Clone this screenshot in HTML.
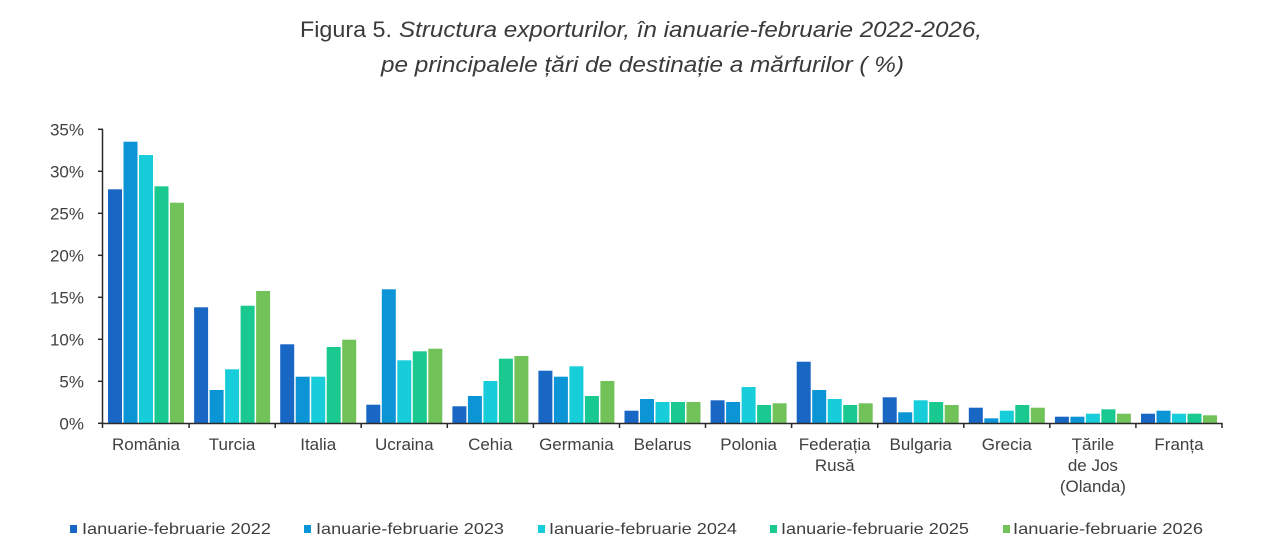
<!DOCTYPE html>
<html>
<head>
<meta charset="utf-8">
<style>
html,body{margin:0;padding:0;background:#fff;}
svg{display:block;}
text{font-family:"Liberation Sans",Arial,sans-serif;fill:#404040;}
</style>
</head>
<body>
<svg width="1280" height="557" viewBox="0 0 1280 557" xmlns="http://www.w3.org/2000/svg">
<rect width="1280" height="557" fill="#fff"/>
<!-- Title -->
<text x="300" y="37" font-size="22" textLength="92" lengthAdjust="spacingAndGlyphs" style="fill:#3a3a3a">Figura 5.</text>
<text x="399" y="37" font-size="22" font-style="italic" textLength="583" lengthAdjust="spacingAndGlyphs" style="fill:#3a3a3a">Structura exporturilor, în ianuarie-februarie 2022-2026,</text>
<text x="381" y="72" font-size="22" font-style="italic" textLength="523" lengthAdjust="spacingAndGlyphs" style="fill:#3a3a3a">pe principalele țări de destinație a mărfurilor ( %)</text>

<!-- Y labels -->
<g font-size="17" text-anchor="end">
<text x="84" y="429.3">0%</text>
<text x="84" y="387.3">5%</text>
<text x="84" y="345.3">10%</text>
<text x="84" y="303.3">15%</text>
<text x="84" y="261.3">20%</text>
<text x="84" y="219.3">25%</text>
<text x="84" y="177.3">30%</text>
<text x="84" y="135.3">35%</text>
</g>

<!-- Bars -->
<g>
<!-- Romania -->
<rect x="108.0" y="189.3" width="14" height="233.7" fill="#1967c4"/>
<rect x="123.5" y="141.7" width="14" height="281.3" fill="#0b95d6"/>
<rect x="139.0" y="155.0" width="14" height="268.0" fill="#16cdd9"/>
<rect x="154.5" y="186.3" width="14" height="236.7" fill="#19c98f"/>
<rect x="170.0" y="202.7" width="14" height="220.3" fill="#72c25a"/>
<!-- Turcia -->
<rect x="194.1" y="307.3" width="14" height="115.7" fill="#1967c4"/>
<rect x="209.6" y="390.0" width="14" height="33.0" fill="#0b95d6"/>
<rect x="225.1" y="369.3" width="14" height="53.7" fill="#16cdd9"/>
<rect x="240.6" y="305.7" width="14" height="117.3" fill="#19c98f"/>
<rect x="256.1" y="291.0" width="14" height="132.0" fill="#72c25a"/>
<!-- Italia -->
<rect x="280.2" y="344.3" width="14" height="78.7" fill="#1967c4"/>
<rect x="295.7" y="376.7" width="14" height="46.3" fill="#0b95d6"/>
<rect x="311.2" y="376.7" width="14" height="46.3" fill="#16cdd9"/>
<rect x="326.7" y="347.0" width="14" height="76.0" fill="#19c98f"/>
<rect x="342.2" y="339.7" width="14" height="83.3" fill="#72c25a"/>
<!-- Ucraina -->
<rect x="366.3" y="404.7" width="14" height="18.3" fill="#1967c4"/>
<rect x="381.8" y="289.3" width="14" height="133.7" fill="#0b95d6"/>
<rect x="397.3" y="360.3" width="14" height="62.7" fill="#16cdd9"/>
<rect x="412.8" y="351.3" width="14" height="71.7" fill="#19c98f"/>
<rect x="428.3" y="348.7" width="14" height="74.3" fill="#72c25a"/>
<!-- Cehia -->
<rect x="452.4" y="406.3" width="14" height="16.7" fill="#1967c4"/>
<rect x="467.9" y="396.0" width="14" height="27.0" fill="#0b95d6"/>
<rect x="483.4" y="381.0" width="14" height="42.0" fill="#16cdd9"/>
<rect x="498.9" y="358.7" width="14" height="64.3" fill="#19c98f"/>
<rect x="514.4" y="356.0" width="14" height="67.0" fill="#72c25a"/>
<!-- Germania -->
<rect x="538.4" y="370.7" width="14" height="52.3" fill="#1967c4"/>
<rect x="553.9" y="376.7" width="14" height="46.3" fill="#0b95d6"/>
<rect x="569.4" y="366.3" width="14" height="56.7" fill="#16cdd9"/>
<rect x="584.9" y="396.0" width="14" height="27.0" fill="#19c98f"/>
<rect x="600.4" y="381.0" width="14" height="42.0" fill="#72c25a"/>
<!-- Belarus -->
<rect x="624.5" y="410.7" width="14" height="12.3" fill="#1967c4"/>
<rect x="640.0" y="399.0" width="14" height="24.0" fill="#0b95d6"/>
<rect x="655.5" y="402.0" width="14" height="21.0" fill="#16cdd9"/>
<rect x="671.0" y="402.0" width="14" height="21.0" fill="#19c98f"/>
<rect x="686.5" y="402.0" width="14" height="21.0" fill="#72c25a"/>
<!-- Polonia -->
<rect x="710.6" y="400.3" width="14" height="22.7" fill="#1967c4"/>
<rect x="726.1" y="402.0" width="14" height="21.0" fill="#0b95d6"/>
<rect x="741.6" y="387.0" width="14" height="36.0" fill="#16cdd9"/>
<rect x="757.1" y="405.0" width="14" height="18.0" fill="#19c98f"/>
<rect x="772.6" y="403.3" width="14" height="19.7" fill="#72c25a"/>
<!-- Federatia Rusa -->
<rect x="796.7" y="361.7" width="14" height="61.3" fill="#1967c4"/>
<rect x="812.2" y="390.0" width="14" height="33.0" fill="#0b95d6"/>
<rect x="827.7" y="399.0" width="14" height="24.0" fill="#16cdd9"/>
<rect x="843.2" y="405.0" width="14" height="18.0" fill="#19c98f"/>
<rect x="858.7" y="403.3" width="14" height="19.7" fill="#72c25a"/>
<!-- Bulgaria -->
<rect x="882.7" y="397.3" width="14" height="25.7" fill="#1967c4"/>
<rect x="898.2" y="412.3" width="14" height="10.7" fill="#0b95d6"/>
<rect x="913.7" y="400.3" width="14" height="22.7" fill="#16cdd9"/>
<rect x="929.2" y="402.0" width="14" height="21.0" fill="#19c98f"/>
<rect x="944.7" y="405.0" width="14" height="18.0" fill="#72c25a"/>
<!-- Grecia -->
<rect x="968.8" y="407.7" width="14" height="15.3" fill="#1967c4"/>
<rect x="984.3" y="418.3" width="14" height="4.7" fill="#0b95d6"/>
<rect x="999.8" y="410.7" width="14" height="12.3" fill="#16cdd9"/>
<rect x="1015.3" y="405.0" width="14" height="18.0" fill="#19c98f"/>
<rect x="1030.8" y="407.7" width="14" height="15.3" fill="#72c25a"/>
<!-- Tarile de Jos -->
<rect x="1054.9" y="416.7" width="14" height="6.3" fill="#1967c4"/>
<rect x="1070.4" y="416.7" width="14" height="6.3" fill="#0b95d6"/>
<rect x="1085.9" y="413.7" width="14" height="9.3" fill="#16cdd9"/>
<rect x="1101.4" y="409.3" width="14" height="13.7" fill="#19c98f"/>
<rect x="1116.9" y="413.7" width="14" height="9.3" fill="#72c25a"/>
<!-- Franta -->
<rect x="1141.0" y="413.7" width="14" height="9.3" fill="#1967c4"/>
<rect x="1156.5" y="410.7" width="14" height="12.3" fill="#0b95d6"/>
<rect x="1172.0" y="413.7" width="14" height="9.3" fill="#16cdd9"/>
<rect x="1187.5" y="413.7" width="14" height="9.3" fill="#19c98f"/>
<rect x="1203.0" y="415.3" width="14" height="7.7" fill="#72c25a"/>
</g>

<!-- Axes -->
<g stroke="#2a2a2a" stroke-width="1.5" fill="none">
<line x1="102.5" y1="129.3" x2="102.5" y2="424"/>
<line x1="102" y1="423.5" x2="1222.5" y2="423.5"/>
<line x1="98" y1="129.3" x2="103" y2="129.3"/>
<line x1="98" y1="171.3" x2="103" y2="171.3"/>
<line x1="98" y1="213.3" x2="103" y2="213.3"/>
<line x1="98" y1="255.3" x2="103" y2="255.3"/>
<line x1="98" y1="297.3" x2="103" y2="297.3"/>
<line x1="98" y1="339.3" x2="103" y2="339.3"/>
<line x1="98" y1="381.3" x2="103" y2="381.3"/>
<line x1="98" y1="423.3" x2="103" y2="423.3"/>
<line x1="102.5" y1="423" x2="102.5" y2="428"/>
<line x1="189.1" y1="423" x2="189.1" y2="428"/>
<line x1="275.2" y1="423" x2="275.2" y2="428"/>
<line x1="361.2" y1="423" x2="361.2" y2="428"/>
<line x1="447.3" y1="423" x2="447.3" y2="428"/>
<line x1="533.4" y1="423" x2="533.4" y2="428"/>
<line x1="619.5" y1="423" x2="619.5" y2="428"/>
<line x1="705.5" y1="423" x2="705.5" y2="428"/>
<line x1="791.6" y1="423" x2="791.6" y2="428"/>
<line x1="877.7" y1="423" x2="877.7" y2="428"/>
<line x1="963.8" y1="423" x2="963.8" y2="428"/>
<line x1="1049.8" y1="423" x2="1049.8" y2="428"/>
<line x1="1135.9" y1="423" x2="1135.9" y2="428"/>
<line x1="1222" y1="423" x2="1222" y2="428"/>
</g>

<!-- Category labels -->
<g font-size="17" text-anchor="middle">
<text x="146.0" y="450">România</text>
<text x="232.1" y="450">Turcia</text>
<text x="318.2" y="450">Italia</text>
<text x="404.3" y="450">Ucraina</text>
<text x="490.3" y="450">Cehia</text>
<text x="576.4" y="450">Germania</text>
<text x="662.5" y="450">Belarus</text>
<text x="748.6" y="450">Polonia</text>
<text x="834.7" y="450">Federația</text>
<text x="834.7" y="471">Rusă</text>
<text x="920.7" y="450">Bulgaria</text>
<text x="1006.8" y="450">Grecia</text>
<text x="1092.9" y="450">Țările</text>
<text x="1092.9" y="471">de Jos</text>
<text x="1092.9" y="492">(Olanda)</text>
<text x="1179.0" y="450">Franța</text>
</g>

<!-- Legend -->
<g font-size="16">
<rect x="70" y="525" width="7" height="8" fill="#1967c4"/>
<text x="82" y="534" textLength="189" lengthAdjust="spacingAndGlyphs">Ianuarie-februarie 2022</text>
<rect x="304" y="525" width="7" height="8" fill="#0b95d6"/>
<text x="316" y="534" textLength="188" lengthAdjust="spacingAndGlyphs">Ianuarie-februarie 2023</text>
<rect x="538" y="525" width="7" height="8" fill="#16cdd9"/>
<text x="549" y="534" textLength="188" lengthAdjust="spacingAndGlyphs">Ianuarie-februarie 2024</text>
<rect x="770" y="525" width="7" height="8" fill="#19c98f"/>
<text x="781" y="534" textLength="188" lengthAdjust="spacingAndGlyphs">Ianuarie-februarie 2025</text>
<rect x="1003" y="525" width="7" height="8" fill="#72c25a"/>
<text x="1013" y="534" textLength="190" lengthAdjust="spacingAndGlyphs">Ianuarie-februarie 2026</text>
</g>
</svg>
</body>
</html>
